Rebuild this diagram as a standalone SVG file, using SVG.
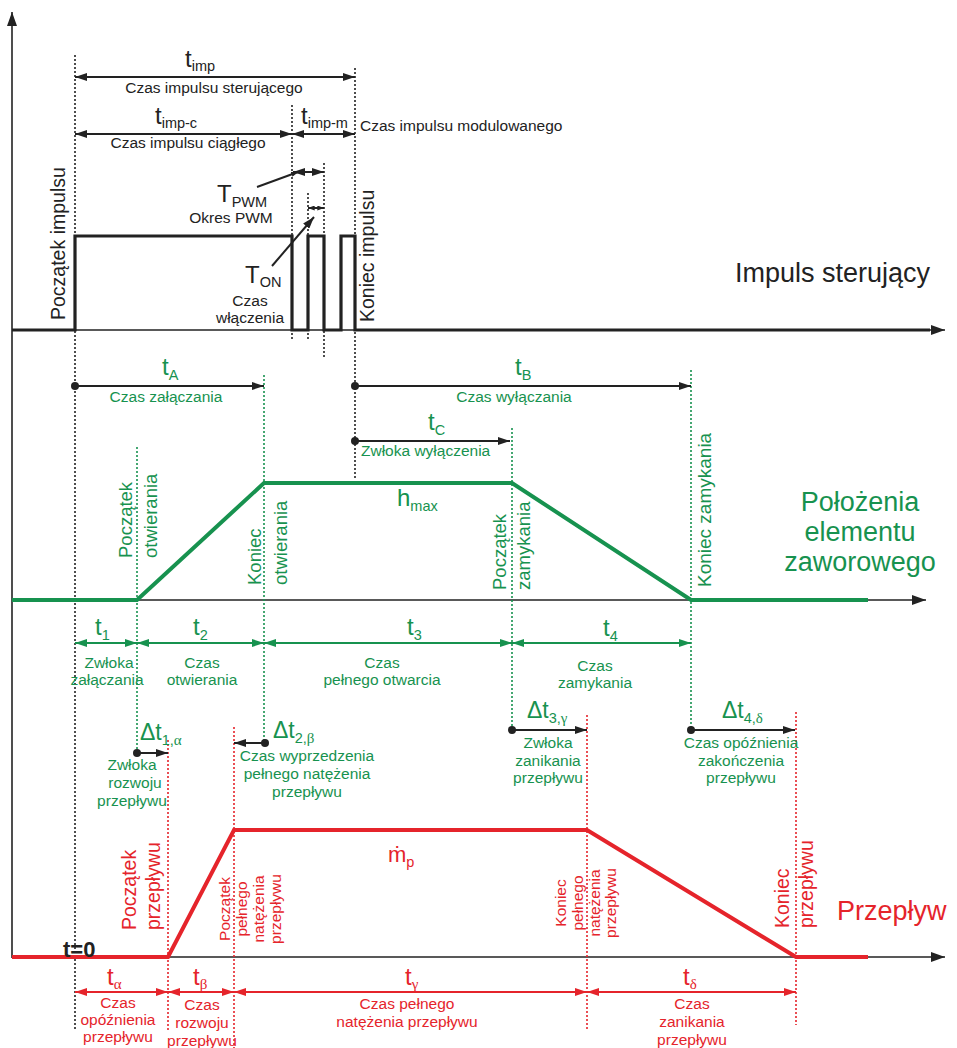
<svg xmlns="http://www.w3.org/2000/svg" width="957" height="1048" viewBox="0 0 957 1048">
<style>
text{font-family:"Liberation Sans",Arial,"DejaVu Sans",sans-serif}
.s{font-size:15.5px}
.b{font-size:24px}
.sub{font-size:14.5px}
.gr{font-family:"Liberation Serif","Times New Roman",serif;font-size:15px}
.v{font-size:19.5px}
.vg{font-size:18.5px}
.vs{font-size:15.5px}
.k{fill:#222}
.g{fill:#17924f}
.r{fill:#e5242b}
.m{text-anchor:middle}
.dk{stroke:#222;stroke-width:1.6;stroke-dasharray:2 2;fill:none}
.dg{stroke:#17924f;stroke-width:1.6;stroke-dasharray:2 2;fill:none}
.dr{stroke:#e5242b;stroke-width:1.6;stroke-dasharray:2 2;fill:none}
.ax{stroke:#222;stroke-width:1.6;fill:none}
.lk{stroke:#222;stroke-width:2;fill:none}
.lg{stroke:#17924f;stroke-width:2;fill:none}
.lr{stroke:#e5242b;stroke-width:2;fill:none}
</style>
<defs>
<marker id="ak" viewBox="0 0 12 8" refX="12" refY="4" markerWidth="12" markerHeight="8" markerUnits="userSpaceOnUse" orient="auto-start-reverse"><path d="M0,0 L12,4 L0,8 z" fill="#222"/></marker>
<marker id="aks" viewBox="0 0 8 6" refX="8" refY="3" markerWidth="7" markerHeight="5" markerUnits="userSpaceOnUse" orient="auto-start-reverse"><path d="M0,0 L8,3 L0,6 z" fill="#222"/></marker>
<marker id="ag" viewBox="0 0 12 8" refX="12" refY="4" markerWidth="12" markerHeight="8" markerUnits="userSpaceOnUse" orient="auto-start-reverse"><path d="M0,0 L12,4 L0,8 z" fill="#17924f"/></marker>
<marker id="ar" viewBox="0 0 12 8" refX="12" refY="4" markerWidth="12" markerHeight="8" markerUnits="userSpaceOnUse" orient="auto-start-reverse"><path d="M0,0 L12,4 L0,8 z" fill="#e5242b"/></marker>
<marker id="ax" viewBox="0 0 14 10" refX="14" refY="5" markerWidth="14" markerHeight="10" markerUnits="userSpaceOnUse" orient="auto"><path d="M0,0 L14,5 L0,10 z" fill="#222"/></marker>
<marker id="dot" viewBox="-5 -5 10 10" refX="0" refY="0" markerWidth="10" markerHeight="10" markerUnits="userSpaceOnUse"><circle r="4" fill="#222"/></marker>
</defs>

<g id="axes">
<line class="ax" x1="12" y1="958" x2="12" y2="12" marker-end="url(#ax)"/>
<line class="ax" x1="12" y1="330" x2="945" y2="330" marker-end="url(#ax)"/>
<line class="ax" x1="12" y1="600" x2="926" y2="600" marker-end="url(#ax)"/>
<line class="ax" x1="12" y1="957" x2="945" y2="957" marker-end="url(#ax)"/>
</g>

<g id="guides">
<line class="dk" x1="75" y1="55" x2="75" y2="1030"/>
<line class="dk" x1="355" y1="68" x2="355" y2="480"/>
<line class="dk" x1="292" y1="105" x2="292" y2="340"/>
<line class="dk" x1="308" y1="193" x2="308" y2="340"/>
<line class="dk" x1="324" y1="163" x2="324" y2="358"/>
<line class="dg" x1="137" y1="447" x2="137" y2="753"/>
<line class="dg" x1="264" y1="375" x2="264" y2="743"/>
<line class="dg" x1="512" y1="428" x2="512" y2="730"/>
<line class="dg" x1="691" y1="370" x2="691" y2="730"/>
<line class="dr" x1="168" y1="740" x2="168" y2="1030"/>
<line class="dr" x1="234" y1="727" x2="234" y2="1048"/>
<line class="dr" x1="587" y1="715" x2="587" y2="1030"/>
<line class="dr" x1="796" y1="712" x2="796" y2="1025"/>
</g>

<g id="impuls">
<path d="M12,330 H75 V236 H292 V330 H308 V236 H324 V330 H341 V236 H355 V330 H930" fill="none" stroke="#222" stroke-width="3.2"/>
<text class="k" x="735" y="282" style="font-size:27px">Impuls sterujący</text>
<text class="k v" transform="translate(65,320) rotate(-90)">Początek impulsu</text>
<text class="k v" transform="translate(374,322) rotate(-90)">Koniec impulsu</text>
</g>

<g id="polozenie">
<path d="M12,600 H137 L264,483 H512 L691,600 H868" fill="none" stroke="#17924f" stroke-width="4"/>
<text class="g m" x="860" y="511" style="font-size:27px">Położenia</text>
<text class="g m" x="860" y="541" style="font-size:27px">elementu</text>
<text class="g m" x="860" y="571" style="font-size:27px">zaworowego</text>
<text class="g" x="397" y="506" style="font-size:24px">h<tspan class="sub" dy="5">max</tspan></text>
<text class="g vg" transform="translate(132,558) rotate(-90)">Początek</text>
<text class="g vg" transform="translate(157,558) rotate(-90)">otwierania</text>
<text class="g vg" transform="translate(261,585) rotate(-90)">Koniec</text>
<text class="g vg" transform="translate(287,585) rotate(-90)">otwierania</text>
<text class="g vg" transform="translate(506,590) rotate(-90)">Początek</text>
<text class="g vg" transform="translate(530,590) rotate(-90)">zamykania</text>
<text class="g" style="font-size:19px" transform="translate(711,587) rotate(-90)">Koniec zamykania</text>
</g>

<g id="przeplyw">
<path d="M12,957 H168 L234,830 H587 L796,957 H868" fill="none" stroke="#e5242b" stroke-width="4"/>
<text class="r" x="837" y="920" style="font-size:27px">Przepływ</text>
<text class="r" x="388" y="862" style="font-size:22px">ṁ<tspan class="sub" dy="5">p</tspan></text>
<text class="k" x="63" y="957" style="font-size:22px;font-weight:bold">t=0</text>
<text class="r v" transform="translate(136,930) rotate(-90)">Początek</text>
<text class="r v" transform="translate(160,930) rotate(-90)">przepływu</text>
<text class="r vs m" transform="translate(230,909) rotate(-90)">Początek</text>
<text class="r vs m" transform="translate(247,909) rotate(-90)">pełnego</text>
<text class="r vs m" transform="translate(264,909) rotate(-90)">natężenia</text>
<text class="r vs m" transform="translate(281,909) rotate(-90)">przepływu</text>
<text class="r vs m" transform="translate(566,903) rotate(-90)">Koniec</text>
<text class="r vs m" transform="translate(583,903) rotate(-90)">pełnego</text>
<text class="r vs m" transform="translate(600,903) rotate(-90)">natężenia</text>
<text class="r vs m" transform="translate(616,903) rotate(-90)">przepływu</text>
<text class="r v" transform="translate(789,928) rotate(-90)">Koniec</text>
<text class="r v" transform="translate(813,928) rotate(-90)">przepływu</text>
</g>

<g id="connectors">
<line class="lk" x1="75" y1="77" x2="355" y2="77" marker-start="url(#ak)" marker-end="url(#ak)"/>
<line class="lk" x1="75" y1="134" x2="292" y2="134" marker-start="url(#ak)" marker-end="url(#ak)"/>
<line class="lk" x1="292" y1="134" x2="355" y2="134" marker-start="url(#ak)" marker-end="url(#ak)"/>
<line class="lk" x1="293" y1="172" x2="324" y2="172" marker-start="url(#ak)" marker-end="url(#ak)"/>
<line class="lk" x1="308" y1="208" x2="324" y2="208" stroke-width="1.2" marker-start="url(#aks)" marker-end="url(#aks)"/>
<line class="lk" x1="257" y1="187" x2="298" y2="172" stroke-width="1.3" marker-end="url(#aks)"/>
<line class="lk" x1="272" y1="266" x2="314" y2="217" stroke-width="1.3" marker-end="url(#ak)"/>
<line class="lk" x1="75" y1="386" x2="264" y2="386" marker-start="url(#dot)" marker-end="url(#ak)"/>
<line class="lk" x1="355" y1="386" x2="691" y2="386" marker-start="url(#dot)" marker-end="url(#ak)"/>
<line class="lk" x1="355" y1="441" x2="510" y2="441" marker-start="url(#dot)" marker-end="url(#ak)"/>
<line class="lg" x1="75" y1="643" x2="137" y2="643" marker-start="url(#ag)" marker-end="url(#ag)"/>
<line class="lg" x1="137" y1="643" x2="264" y2="643" marker-start="url(#ag)" marker-end="url(#ag)"/>
<line class="lg" x1="264" y1="643" x2="512" y2="643" marker-start="url(#ag)" marker-end="url(#ag)"/>
<line class="lg" x1="512" y1="643" x2="691" y2="643" marker-start="url(#ag)" marker-end="url(#ag)"/>
<line class="lk" x1="137" y1="753" x2="168" y2="753" marker-start="url(#dot)" marker-end="url(#ak)"/>
<line class="lk" x1="265" y1="743" x2="234" y2="743" marker-start="url(#dot)" marker-end="url(#ak)"/>
<line class="lk" x1="512" y1="730" x2="587" y2="730" marker-start="url(#dot)" marker-end="url(#ak)"/>
<line class="lk" x1="691" y1="730" x2="795" y2="730" marker-start="url(#dot)" marker-end="url(#ak)"/>
<line class="lr" x1="75" y1="992" x2="168" y2="992" marker-start="url(#ar)" marker-end="url(#ar)"/>
<line class="lr" x1="168" y1="992" x2="234" y2="992" marker-start="url(#ar)" marker-end="url(#ar)"/>
<line class="lr" x1="234" y1="992" x2="587" y2="992" marker-start="url(#ar)" marker-end="url(#ar)"/>
<line class="lr" x1="587" y1="992" x2="796" y2="992" marker-start="url(#ar)" marker-end="url(#ar)"/>
</g>

<g id="labels-top">
<text class="k b" x="185" y="67">t<tspan class="sub" dy="4">imp</tspan></text>
<text class="k s m" x="214" y="93">Czas impulsu sterującego</text>
<text class="k b" x="155" y="124">t<tspan class="sub" dy="4">imp-c</tspan></text>
<text class="k s m" x="188" y="148">Czas impulsu ciągłego</text>
<text class="k b" x="301" y="124">t<tspan class="sub" dy="4">imp-m</tspan></text>
<text class="k s" x="360" y="131">Czas impulsu modulowanego</text>
<text class="k b" x="217" y="202">T<tspan class="sub" dy="5">PWM</tspan></text>
<text class="k s m" x="231" y="223">Okres PWM</text>
<text class="k b" x="245" y="283">T<tspan class="sub" dy="4">ON</tspan></text>
<text class="k s m" x="250" y="306">Czas</text>
<text class="k s m" x="250" y="323">włączenia</text>
</g>

<g id="labels-green">
<text class="g b" x="162" y="375">t<tspan class="sub" dy="5">A</tspan></text>
<text class="g s m" x="166" y="402">Czas załączania</text>
<text class="g b" x="515" y="375">t<tspan class="sub" dy="5">B</tspan></text>
<text class="g s m" x="514" y="402">Czas wyłączania</text>
<text class="g b" x="428" y="430">t<tspan class="sub" dy="5">C</tspan></text>
<text class="g s" x="361" y="456">Zwłoka wyłączenia</text>
<text class="g b" x="95" y="635">t<tspan class="sub" dy="5">1</tspan></text>
<text class="g b" x="193" y="635">t<tspan class="sub" dy="5">2</tspan></text>
<text class="g b" x="407" y="635">t<tspan class="sub" dy="5">3</tspan></text>
<text class="g b" x="603" y="636">t<tspan class="sub" dy="5">4</tspan></text>
<text class="g s m" x="109" y="668">Zwłoka</text>
<text class="g s m" x="107" y="685">załączania</text>
<text class="g s m" x="202" y="668">Czas</text>
<text class="g s m" x="202" y="685">otwierania</text>
<text class="g s m" x="382" y="668">Czas</text>
<text class="g s m" x="382" y="685">pełnego otwarcia</text>
<text class="g s m" x="595" y="671">Czas</text>
<text class="g s m" x="595" y="688">zamykania</text>
<text class="g" x="140" y="740" style="font-size:23px">Δt<tspan class="sub" dy="5">1,</tspan><tspan class="gr">α</tspan></text>
<text class="g s m" x="132" y="770">Zwłoka</text>
<text class="g s m" x="135" y="788">rozwoju</text>
<text class="g s m" x="132" y="806">przepływu</text>
<text class="g" x="273" y="738" style="font-size:23px">Δt<tspan class="sub" dy="5">2,</tspan><tspan class="gr">β</tspan></text>
<text class="g s m" x="307" y="761">Czas wyprzedzenia</text>
<text class="g s m" x="307" y="779">pełnego natężenia</text>
<text class="g s m" x="307" y="797">przepływu</text>
<text class="g" x="527" y="718" style="font-size:23px">Δt<tspan class="sub" dy="5">3,</tspan><tspan class="gr">γ</tspan></text>
<text class="g s m" x="548" y="748">Zwłoka</text>
<text class="g s m" x="548" y="766">zanikania</text>
<text class="g s m" x="548" y="783">przepływu</text>
<text class="g" x="722" y="718" style="font-size:23px">Δt<tspan class="sub" dy="5">4,</tspan><tspan class="gr">δ</tspan></text>
<text class="g s m" x="741" y="748">Czas opóźnienia</text>
<text class="g s m" x="741" y="766">zakończenia</text>
<text class="g s m" x="741" y="783">przepływu</text>
</g>

<g id="labels-red">
<text class="r b" x="107" y="985">t<tspan class="gr" dy="4">α</tspan></text>
<text class="r s m" x="118" y="1008">Czas</text>
<text class="r s m" x="118" y="1025">opóźnienia</text>
<text class="r s m" x="118" y="1042">przepływu</text>
<text class="r b" x="193" y="985">t<tspan class="gr" dy="4">β</tspan></text>
<text class="r s m" x="202" y="1010">Czas</text>
<text class="r s m" x="202" y="1028">rozwoju</text>
<text class="r s m" x="202" y="1046">przepływu</text>
<text class="r b" x="405" y="985">t<tspan class="gr" dy="4">γ</tspan></text>
<text class="r s m" x="407" y="1009">Czas pełnego</text>
<text class="r s m" x="407" y="1027">natężenia przepływu</text>
<text class="r b" x="683" y="985">t<tspan class="gr" dy="4">δ</tspan></text>
<text class="r s m" x="692" y="1009">Czas</text>
<text class="r s m" x="692" y="1027">zanikania</text>
<text class="r s m" x="692" y="1045">przepływu</text>
</g>
</svg>
